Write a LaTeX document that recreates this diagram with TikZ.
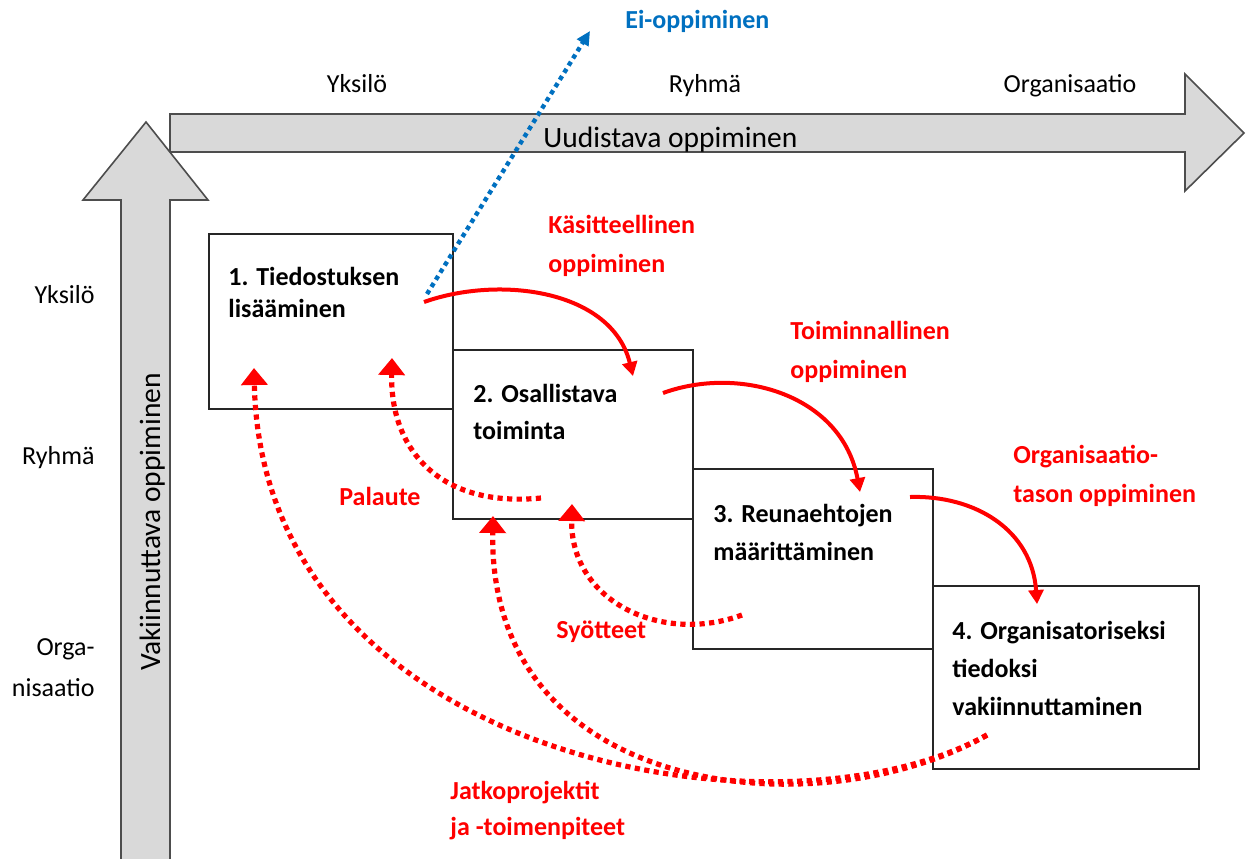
\documentclass[tikz,border=0pt]{standalone}
\usepackage{fontspec}
\setmainfont{Carlito}
\usepackage{xcolor}
\usetikzlibrary{arrows.meta}

\definecolor{shaftgray}{HTML}{D9D9D9}
\definecolor{edgegray}{HTML}{4D4D4D}
\definecolor{eiblue}{HTML}{0070C0}
\definecolor{learnred}{HTML}{FF0000}

\begin{document}
\begin{tikzpicture}[x=0.5pt, y=-0.5pt,
  every node/.style={inner sep=0pt, font=\fontsize{13}{16}\selectfont},
  bigarrow/.style={fill=shaftgray, draw=edgegray, line width=0.8pt},
  stagebox/.style={draw=black!85, line width=0.8pt, anchor=north west},
  stagetext/.style={anchor=base west, align=left, font=\fontsize{13}{16}\selectfont\bfseries},
  learnlbl/.style={stagetext, text=learnred},
  learnarr/.style={draw=learnred, line width=2pt, -{Triangle[length=7pt,width=7.5pt]}},
  loopback/.style={draw=learnred, line width=2.6pt, dash pattern=on 2.6pt off 2.2pt, -{Triangle[length=8.5pt,width=13pt]}},
  noarr/.style={draw=eiblue, line width=2.2pt, dash pattern=on 2.2pt off 2pt, -{Triangle[length=7pt,width=6.5pt]}}]
\useasboundingbox (0,0) rectangle (1246,858);

\filldraw[bigarrow] (170,114) -- (1185,114) -- (1185,74) -- (1244,133) -- (1185,191) -- (1185,152) -- (170,152) -- cycle;
\filldraw[bigarrow] (121,864) -- (121,200) -- (83,200) -- (146,122) -- (208,200) -- (170,200) -- (170,864);

\node[anchor=base] (top1) at (357,92) {Yksilö};
\node[anchor=base] (top2) at (705,92) {Ryhmä};
\node[anchor=base] (top3) at (1070,92) {Organisaatio};
\node[anchor=base west, font=\fontsize{14.75}{18}\selectfont] (uudistava) at (543,147) {Uudistava oppiminen};
\node[anchor=base, rotate=90, font=\fontsize{14.75}{18}\selectfont] (vakiin) at (160,522) {Vakiinnuttava oppiminen};

\node[anchor=base east] (lvl1) at (95,303) {Yksilö};
\node[anchor=base east] (lvl2) at (95,464) {Ryhmä};
\node[anchor=base east, align=right] (lvl3) at (95,696) {Orga-\\[4.5pt]nisaatio};

\node[stagebox, minimum width=122pt, minimum height=87.5pt] (b1) at (208,233) {};
\node[stagebox, minimum width=120pt, minimum height=84.5pt] (b2) at (452,349) {};
\node[stagebox, minimum width=120pt, minimum height=90pt] (b3) at (692,468) {};
\node[stagebox, minimum width=133pt, minimum height=91.5pt] (b4) at (932,585) {};

\node[stagetext] (t1) at (228,317) {1. Tiedostuksen\\lisääminen};
\node[stagetext] (t2) at (473,439) {2. Osallistava\\[2.5pt]toiminta};
\node[stagetext] (t3) at (713,560) {3. Reunaehtojen\\[3pt]määrittäminen};
\node[stagetext] (t4) at (952,715) {4. Organisatoriseksi\\[3pt]tiedoksi\\[3pt]vakiinnuttaminen};

\node[learnlbl] (l1) at (548,272) {Käsitteellinen\\[3.5pt]oppiminen};
\node[learnlbl] (l2) at (790,378) {Toiminnallinen\\[3.5pt]oppiminen};
\node[learnlbl] (l3) at (1013,502) {Organisaatio-\\[3.5pt]tason oppiminen};
\node[learnlbl] (palaute) at (339,505) {Palaute};
\node[learnlbl] (syotteet) at (556,638) {Syötteet};
\node[learnlbl] (jatko) at (450,835) {Jatkoprojektit\\[2pt]ja -toimenpiteet};
\node[stagetext, text=eiblue] (ei) at (625,28) {Ei-oppiminen};

\coordinate (eifrom) at (427,294);
\coordinate (eito) at (590,31);
\coordinate (a1from) at (424,302);
\coordinate (a1to) at (633,376);
\coordinate (a2from) at (663,393);
\coordinate (a2to) at (860,492);
\coordinate (a3from) at (910,497);
\coordinate (a3to) at (1037,604);
\coordinate (fbfrom) at (541,498);
\coordinate (fbto) at (392,358);
\coordinate (infrom) at (742,615);
\coordinate (into) at (572,504);
\coordinate (jpfrom) at (987,735);
\coordinate (jpto2) at (493,516);
\coordinate (jpto1) at (254,368);

\draw[noarr] (eifrom) -- (eito);
\draw[learnarr] (a1from) .. controls (500,275) and (612,290) .. (a1to);
\draw[learnarr] (a2from) .. controls (740,365) and (842,395) .. (a2to);
\draw[learnarr] (a3from) .. controls (975,495) and (1032,530) .. (a3to);
\draw[loopback] (fbfrom) .. controls (440,508) and (390,450) .. (fbto);
\draw[loopback] (infrom) .. controls (660,645) and (570,600) .. (into);
\draw[loopback] (jpfrom) .. controls (820,830) and (488,800) .. (jpto2);
\draw[loopback] (jpfrom) .. controls (780,850) and (262,760) .. (jpto1);
\end{tikzpicture}
\end{document}
